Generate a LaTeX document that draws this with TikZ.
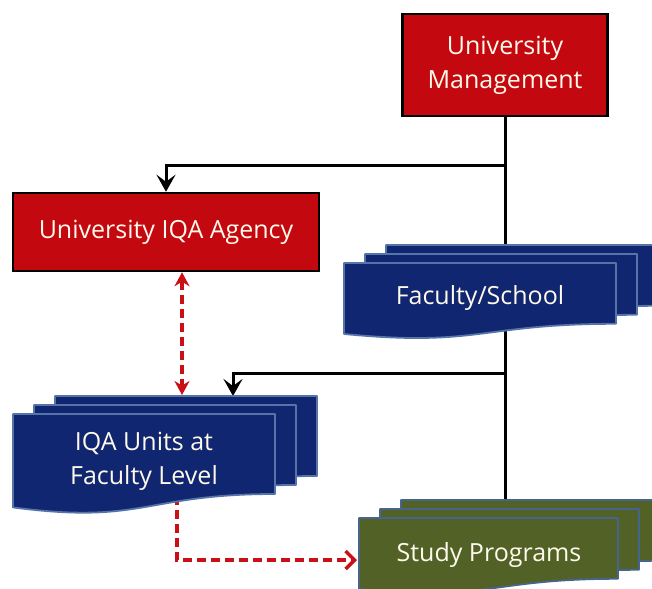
\documentclass[tikz,border=0pt]{standalone}
\usepackage{fontspec}
\setmainfont{Open Sans}
\usetikzlibrary{arrows.meta}
\definecolor{boxred}{RGB}{196,8,16}
\definecolor{navy}{RGB}{16,38,112}
\definecolor{navyedge}{RGB}{86,116,168}
\definecolor{olive}{RGB}{82,98,38}
\definecolor{oliveedge}{RGB}{70,100,140}
\definecolor{txtwhite}{RGB}{255,250,236}
\definecolor{dashred}{RGB}{200,16,22}
\pgfdeclarelayer{bg}
\pgfsetlayers{bg,main}
\newcommand\mdpage[5]{%
  \pgfmathsetmacro\mdXr{#1+#3}%
  \pgfmathsetmacro\mdYr{#2+0.8*#4}%
  \pgfmathsetmacro\mdXm{#1+0.5*#3}%
  \pgfmathsetmacro\mdYc{#2+1.107*#4}%
  \pgfmathsetmacro\mdYl{#2+0.934*#4}%
  \path[#5] (#1,#2) -- (\mdXr,#2) -- (\mdXr,\mdYr) .. controls (\mdXm,\mdYr) and (\mdXm,\mdYc) .. (#1,\mdYl) -- cycle;}
% x0 y0 w h style ; back pages offset by (+21,-9) each
\newcommand\mdstack[5]{%
  \pgfmathsetmacro\mdBx{#1+42}\pgfmathsetmacro\mdBy{#2-18}%
  \pgfmathsetmacro\mdMx{#1+21}\pgfmathsetmacro\mdMy{#2-9}%
  \mdpage{\mdBx}{\mdBy}{#3}{#4}{#5}%
  \mdpage{\mdMx}{\mdMy}{#3}{#4}{#5}%
  \mdpage{#1}{#2}{#3}{#4}{#5}}
\tikzset{
  redbox/.style={draw=black, line width=2.5pt, fill=boxred, text=txtwhite, align=center, inner sep=0pt},
  doctext/.style={text=txtwhite, align=center, inner sep=0pt},
  navydoc/.style={fill=navy, draw=navyedge, line width=1.8pt, line join=round},
  olivedoc/.style={fill=olive, draw=oliveedge, line width=1.8pt, line join=round},
  blackline/.style={draw=black, line width=3pt},
  blackarrow/.style={blackline, -{Stealth[length=17pt,width=19pt,inset=7pt]}},
  reddash/.style={draw=dashred, line width=3.5pt, dash pattern=on 9pt off 5pt},
}
\begin{document}
\begin{tikzpicture}[x=1pt,y=-1pt, font=\fontsize{25}{34}\selectfont]
\useasboundingbox (0,0) rectangle (652,588);
% red boxes
\node[redbox, minimum width=205pt, minimum height=102pt] (um) at (505,65) {University\\Management};
\node[redbox, minimum width=306pt, minimum height=78pt] (agency) at (166,232) {University IQA Agency};
% document stacks
\mdstack{344}{263}{272}{76}{navydoc}
\mdstack{13}{414}{262}{100}{navydoc}
\mdstack{359}{518}{259}{76}{olivedoc}
\node[doctext] (fac) at (480,298) {Faculty/School};
\node[doctext] (units) at (144,461) {IQA Units at\\Faculty Level};
\node[doctext] (prog) at (489,555) {Study Programs};
% anchor points
\coordinate (progtop) at (505,502);
\coordinate (j1) at (505,165);
\coordinate (j2) at (505,373);
\coordinate (unitstop) at (233,396);
\coordinate (unitsback) at (182,395);
\coordinate (unitsbot) at (177,496);
\coordinate (bend) at (177,560);
\coordinate (progleft) at (357,560);
\begin{pgfonlayer}{bg}
\draw[blackline] (um.south) -- (progtop);
\draw[blackarrow] (j1) -- (agency.north |- j1) -- (agency.north);
\draw[blackarrow] (j2) -- (unitstop |- j2) -- (unitstop);
\draw[reddash, {Stealth[length=14pt,width=15pt]}-{Stealth[length=14pt,width=15pt]}] (agency.south -| unitsback) -- (unitsback);
\draw[reddash, -{Straight Barb[length=9pt,width=18pt,line width=3.5pt]}] (unitsbot) -- (bend) -- (progleft);
\end{pgfonlayer}
\end{tikzpicture}
\end{document}
